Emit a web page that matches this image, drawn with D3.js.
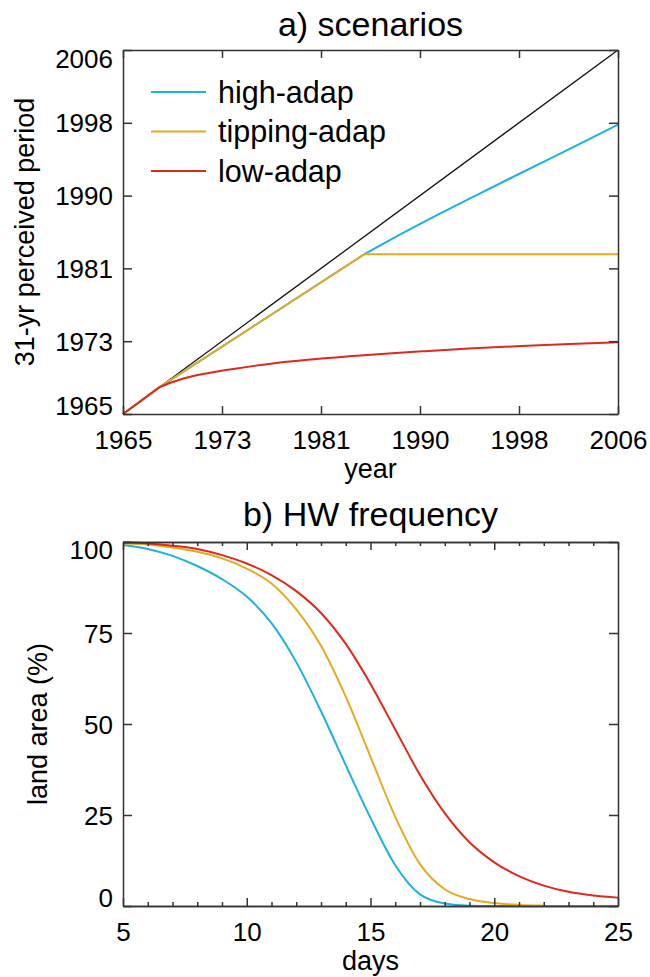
<!DOCTYPE html>
<html lang="en">
<head>
<meta charset="UTF-8">
<title>Scenarios and HW frequency</title>
<style>
  body { margin: 0; background: #fff; }
  svg { display: block; }
</style>
</head>
<body>
<script src="https://cdn.jsdelivr.net/npm/d3@7"></script>
<div id="chart"></div>
<script>
// ---- panel a data (31-yr perceived period vs year) ----
var refYears = [1965, 2006];
var refValues = [1965, 2006];

var highYears = [1965, 1968, 1985, 1988, 1991, 1994, 1997, 2000, 2003, 2006];
var highValues = [1965, 1968, 1983, 1985.25, 1987.4, 1989.45, 1991.5, 1993.5, 1995.55, 1997.6];

var tipYears = [1965, 1968, 1985, 2006];
var tipValues = [1965, 1968, 1983, 1983];

var lowYears = [1965, 1968, 1969, 1970, 1972, 1974, 1976, 1978, 1981, 1984, 1987, 1990, 1994, 1998, 2002, 2006];
var lowValues = [1965, 1968, 1968.55, 1969.0, 1969.6, 1970.05, 1970.45, 1970.8, 1971.2, 1971.52, 1971.82, 1972.08, 1972.4, 1972.66, 1972.88, 1973.08];
var lowKink = 1; // index where the red curve bends

var yearTicks = [1965, 1973.2, 1981.4, 1989.6, 1997.8, 2006];

// ---- panel b data (land area % vs days) ----
var days = [5, 6, 7, 8, 9, 10, 11, 12, 13, 14, 15, 16, 17, 18, 19, 20, 21, 22, 23, 24, 25];
var highArea = [99.2, 98.1, 96.2, 93.4, 89.8, 85.0, 77.7, 67.0, 53.5, 38.7, 24.2, 11.2, 3.2, 0.7, 0.1, 0, 0, 0, 0, 0, 0];
var tipArea  = [99.6, 99.3, 98.5, 97.3, 95.5, 92.7, 88.6, 81.5, 71.5, 57.5, 41.0, 24.5, 11.5, 4.6, 1.9, 0.8, 0.3, 0.1, 0, 0, 0];
var lowArea  = [99.9, 99.6, 99.0, 98.1, 96.4, 94.1, 90.9, 86.5, 80.5, 72.0, 61.0, 48.5, 36.0, 25.5, 17.5, 12.0, 8.2, 5.6, 3.9, 2.9, 2.3];

var dayTicks = [5, 10, 15, 20, 25];
var areaTicks = [0, 25, 50, 75, 100];

var names = ["high-adap", "tipping-adap", "low-adap"];
var colors = ["#1fb0e3", "#e4aa22", "#e0281c"];

var FONT = "'Liberation Sans', Arial, Helvetica, sans-serif";
var AXC = "#333";

var W = 650, H = 977;
var svg = d3.select("#chart").append("svg")
  .attr("width", W).attr("height", H);

var left = 123, pw = 495, ph = 364;

function zip(xs, ys) { return xs.map(function(d, i) { return [d, ys[i]]; }); }

function styleAxis(g, size) {
  g.attr("font-size", size).attr("font-family", FONT);
  g.selectAll("path, line").attr("stroke", AXC).attr("stroke-width", 1.5);
  g.selectAll("text").attr("fill", "#000");
}

// ========== panel a ==========
var ga = svg.append("g").attr("transform", "translate(" + left + ",50)");
var xa = d3.scaleLinear().domain([1965, 2006]).range([0, pw]);
var ya = d3.scaleLinear().domain([1965, 2006]).range([ph, 0]);
var fmtYear = function(d) { return Math.round(d); };

var lineA = d3.line().x(function(d) { return xa(d[0]); }).y(function(d) { return ya(d[1]); });
var curveA = d3.line().curve(d3.curveMonotoneX).x(function(d) { return xa(d[0]); }).y(function(d) { return ya(d[1]); });

ga.append("path").datum(zip(refYears, refValues)).attr("d", lineA)
  .attr("fill", "none").attr("stroke", "#111").attr("stroke-width", 1.3);
ga.append("path").datum(zip(highYears, highValues)).attr("d", lineA)
  .attr("fill", "none").attr("stroke", colors[0]).attr("stroke-width", 2);
ga.append("path").datum(zip(tipYears, tipValues)).attr("d", lineA)
  .attr("fill", "none").attr("stroke", colors[1]).attr("stroke-width", 2);
var lowPts = zip(lowYears, lowValues);
ga.append("path")
  .attr("d", lineA(lowPts.slice(0, lowKink + 1)) + curveA(lowPts.slice(lowKink)).replace(/^M/, "L"))
  .attr("fill", "none").attr("stroke", colors[2]).attr("stroke-width", 2)
  .attr("stroke-linejoin", "miter");

var axB = ga.append("g").attr("transform", "translate(0," + ph + ")")
  .call(d3.axisBottom(xa).tickValues(yearTicks).tickFormat(fmtYear).tickSize(-8).tickSizeOuter(0).tickPadding(17));
styleAxis(axB, 26);
var axL = ga.append("g")
  .call(d3.axisLeft(ya).tickValues(yearTicks).tickFormat(fmtYear).tickSize(-9).tickSizeOuter(0).tickPadding(10));
styleAxis(axL, 26);
axL.selectAll(".tick text").attr("dy", function(d, i) {
  if (i === 0) return "-0.0em";
  if (i === yearTicks.length - 1) return "0.68em";
  return "0.35em";
});
var axT = ga.append("g")
  .call(d3.axisTop(xa).tickValues(yearTicks).tickFormat("").tickSize(-8).tickSizeOuter(0));
styleAxis(axT, 26);
var axR = ga.append("g").attr("transform", "translate(" + pw + ",0)")
  .call(d3.axisRight(ya).tickValues(yearTicks).tickFormat("").tickSize(-9).tickSizeOuter(0));
styleAxis(axR, 26);

// legend
var leg = ga.append("g");
names.forEach(function(n, i) {
  var yy = 42 + i * 39.5;
  leg.append("line").attr("x1", 28).attr("x2", 83).attr("y1", yy).attr("y2", yy)
    .attr("stroke", colors[i]).attr("stroke-width", 2);
  leg.append("text").attr("x", 95).attr("y", yy).attr("dy", "0.35em")
    .attr("font-family", FONT).attr("font-size", 30.5).text(n);
});

svg.append("text").attr("x", left + pw / 2).attr("y", 36).attr("text-anchor", "middle")
  .attr("font-family", FONT).attr("font-size", 34).text("a) scenarios");
svg.append("text").attr("x", left + pw / 2).attr("y", 478).attr("text-anchor", "middle")
  .attr("font-family", FONT).attr("font-size", 27).text("year");
svg.append("text").attr("transform", "translate(25," + (50 + ph / 2) + ") rotate(-90)")
  .attr("text-anchor", "middle").attr("dy", "0.35em")
  .attr("font-family", FONT).attr("font-size", 27).text("31-yr perceived period");

// ========== panel b ==========
var gb = svg.append("g").attr("transform", "translate(" + left + ",542)");
var xb = d3.scaleLinear().domain([5, 25]).range([0, pw]);
var yb = d3.scaleLinear().domain([0, 100]).range([ph, 0]);

var lineB = d3.line().curve(d3.curveMonotoneX)
  .x(function(d) { return xb(d[0]); }).y(function(d) { return yb(d[1]); });

[highArea, tipArea, lowArea].forEach(function(s, i) {
  gb.append("path").datum(zip(days, s)).attr("d", lineB)
    .attr("fill", "none").attr("stroke", colors[i]).attr("stroke-width", 2);
});

var minorDays = days.filter(function(d) { return dayTicks.indexOf(d) < 0; });

var bxMinor = gb.append("g").attr("transform", "translate(0," + ph + ")")
  .call(d3.axisBottom(xb).tickValues(minorDays).tickFormat("").tickSize(-4).tickSizeOuter(0));
styleAxis(bxMinor, 26);
var bx = gb.append("g").attr("transform", "translate(0," + ph + ")")
  .call(d3.axisBottom(xb).tickValues(dayTicks).tickSize(-8).tickSizeOuter(0).tickPadding(17));
styleAxis(bx, 26);
var btMinor = gb.append("g")
  .call(d3.axisTop(xb).tickValues(minorDays).tickFormat("").tickSize(-4).tickSizeOuter(0));
styleAxis(btMinor, 26);
var bt = gb.append("g")
  .call(d3.axisTop(xb).tickValues(dayTicks).tickFormat("").tickSize(-8).tickSizeOuter(0));
styleAxis(bt, 26);
var by = gb.append("g")
  .call(d3.axisLeft(yb).tickValues(areaTicks).tickSize(-9).tickSizeOuter(0).tickPadding(10));
styleAxis(by, 26);
by.selectAll(".tick text").attr("dy", function(d, i) {
  if (i === 0) return "-0.0em";
  if (i === areaTicks.length - 1) return "0.65em";
  return "0.35em";
});
var br = gb.append("g").attr("transform", "translate(" + pw + ",0)")
  .call(d3.axisRight(yb).tickValues(areaTicks).tickFormat("").tickSize(-9).tickSizeOuter(0));
styleAxis(br, 26);

svg.append("text").attr("x", left + pw / 2).attr("y", 526).attr("text-anchor", "middle")
  .attr("font-family", FONT).attr("font-size", 34).text("b) HW frequency");
svg.append("text").attr("x", left + pw / 2).attr("y", 970).attr("text-anchor", "middle")
  .attr("font-family", FONT).attr("font-size", 27).text("days");
svg.append("text").attr("transform", "translate(38," + (542 + ph / 2) + ") rotate(-90)")
  .attr("text-anchor", "middle").attr("dy", "0.35em")
  .attr("font-family", FONT).attr("font-size", 27).text("land area (%)");
</script>
</body>
</html>
